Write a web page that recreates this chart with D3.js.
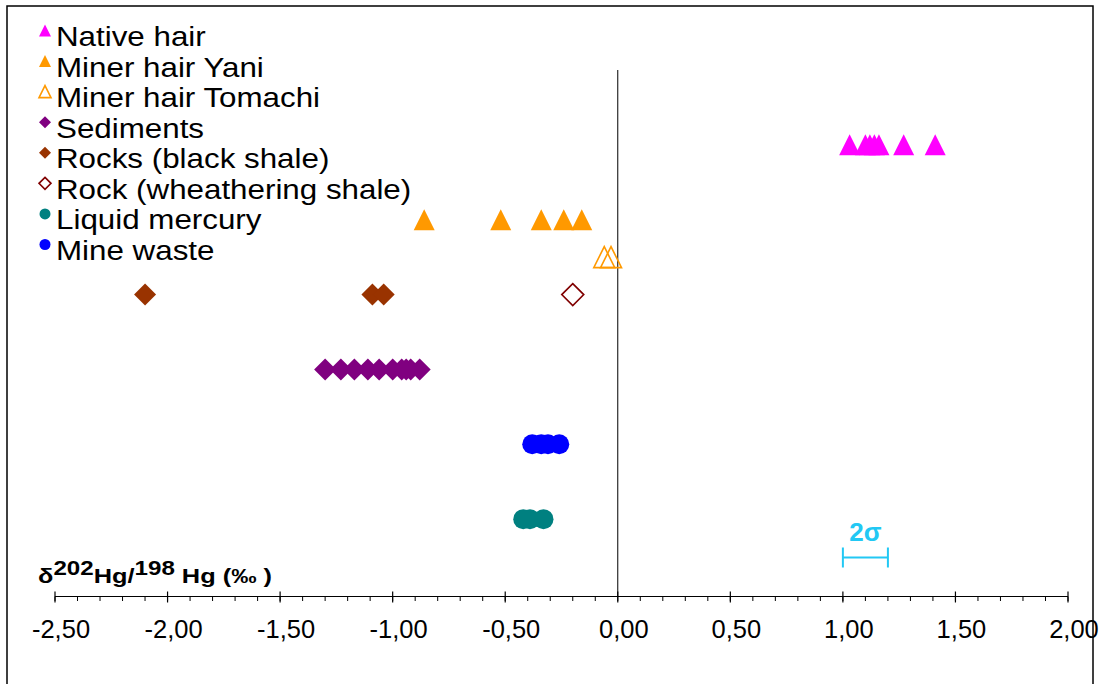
<!DOCTYPE html>
<html>
<head>
<meta charset="utf-8">
<script src="https://cdn.jsdelivr.net/npm/d3@7"></script>
<style>
  html, body { margin: 0; padding: 0; background: #fff; }
  svg { display: block; }
  text { font-family: "Liberation Sans", Arial, sans-serif; }
</style>
</head>
<body>
<svg id="chart" width="1103" height="684"></svg>
<script>
// ---------- data ----------
const seriesNames = ["Native hair", "Miner hair Yani", "Miner hair Tomachi", "Sediments",
  "Rocks (black shale)", "Rock (wheathering shale)", "Liquid mercury", "Mine waste"];
const seriesLevels = [6, 5, 4.5, 3, 4, 4, 1, 2];   // vertical row of each group
const nativeHair   = [1.03, 1.10, 1.12, 1.14, 1.16, 1.27, 1.41];
const minerYani    = [-0.86, -0.52, -0.34, -0.24, -0.16];
const minerTomachi = [-0.06, -0.03];
const sediments    = [-1.30, -1.23, -1.17, -1.11, -1.06, -1.00, -0.96, -0.94, -0.92, -0.88];
const rocksBlack   = [-2.10, -1.09, -1.04];
const rockWeather  = [-0.20];
const liquidHg     = [-0.42, -0.39, -0.33];
const mineWaste    = [-0.38, -0.34, -0.31, -0.26];
const majorTicks   = [-2.5, -2.0, -1.5, -1.0, -0.5, 0, 0.5, 1.0, 1.5, 2.0];
const tickLabels   = ["-2,50", "-2,00", "-1,50", "-1,00", "-0,50", "0,00", "0,50", "1,00", "1,50", "2,00"];
const sigmaBar     = [1.0, 1.2];

const seriesValues = [nativeHair, minerYani, minerTomachi, sediments, rocksBlack, rockWeather, liquidHg, mineWaste];
const styles = [
  {shape: "tri", fill: "#ff00ff", stroke: "none"},
  {shape: "tri", fill: "#ff9900", stroke: "none"},
  {shape: "tri", fill: "none", stroke: "#ff9900"},
  {shape: "dia", fill: "#800080", stroke: "none"},
  {shape: "dia", fill: "#993300", stroke: "none"},
  {shape: "dia", fill: "none", stroke: "#800000"},
  {shape: "cir", fill: "#008080", stroke: "none"},
  {shape: "cir", fill: "#0000ff", stroke: "none"}
];

// ---------- scales ----------
const x = d3.scaleLinear().domain([-2.5, 2.0]).range([55, 1068]);
const y = d3.scaleLinear().domain([0, 7]).range([594, 70]);
const axisY = 596.5;

const svg = d3.select("#chart");

// frame
svg.append("rect").attr("x", 7).attr("y", 6).attr("width", 1086).attr("height", 720)
  .attr("fill", "#fff").attr("stroke", "#000").attr("stroke-width", 1.5);

function shapePath(shape, s) {
  const h = s / 2;
  if (shape === "tri") {
    return `M0,${-h}L${h},${h}L${-h},${h}Z`;
  } else if (shape === "dia") {
    return `M0,${-h}L${h},0L0,${h}L${-h},0Z`;
  }
  return null;
}

function drawMarker(g, st, cx, cy, size) {
  if (st.shape === "cir") {
    g.append("circle").attr("cx", cx).attr("cy", cy).attr("r", size / 2)
      .attr("fill", st.fill).attr("stroke", st.stroke);
  } else {
    g.append("path").attr("d", shapePath(st.shape, size))
      .attr("transform", `translate(${cx},${cy})`)
      .attr("fill", st.fill)
      .attr("stroke", st.stroke)
      .attr("stroke-width", st.stroke === "none" ? 0 : 1.6)
      .attr("stroke-linejoin", "miter");
  }
}

// zero line
svg.append("line").attr("x1", x(0)).attr("x2", x(0)).attr("y1", y(7)).attr("y2", axisY)
  .attr("stroke", "#000").attr("stroke-width", 1);

// x axis
const axisG = svg.append("g");
axisG.append("line").attr("x1", x(-2.5)).attr("x2", x(2.0)).attr("y1", axisY).attr("y2", axisY)
  .attr("stroke", "#000").attr("stroke-width", 1.2);
const minor = d3.range(-25, 21).map(d => d / 10);
axisG.selectAll("line.minor").data(minor).join("line").attr("class", "minor")
  .attr("x1", d => x(d)).attr("x2", d => x(d))
  .attr("y1", axisY).attr("y2", axisY + 4.5)
  .attr("stroke", "#000").attr("stroke-width", 1);
axisG.selectAll("line.major").data(majorTicks).join("line").attr("class", "major")
  .attr("x1", d => x(d)).attr("x2", d => x(d))
  .attr("y1", axisY - 5).attr("y2", axisY + 6)
  .attr("stroke", "#000").attr("stroke-width", 1.2);
axisG.selectAll("text.tl").data(majorTicks).join("text").attr("class", "tl")
  .attr("x", d => x(d) + 6).attr("y", 638)
  .attr("text-anchor", "middle").attr("font-size", 25.5).attr("fill", "#000")
  .text((d, i) => tickLabels[i]);

// axis title
const title = svg.append("text").attr("x", 38).attr("y", 583)
  .attr("font-size", 21).attr("font-weight", "bold").attr("fill", "#000")
  .attr("textLength", 234).attr("lengthAdjust", "spacingAndGlyphs");
title.append("tspan").text("δ");
title.append("tspan").attr("dy", -8).attr("font-size", 20).text("202");
title.append("tspan").attr("dy", 8).text("Hg/");
title.append("tspan").attr("dy", -8).attr("font-size", 20).text("198");
title.append("tspan").attr("dy", 8).text(" Hg (‰ )");

// data points
seriesValues.forEach((vals, i) => {
  const g = svg.append("g");
  const st = styles[i];
  const size = st.shape === "cir" ? 20 : (st.shape === "dia" ? 22 : 21);
  vals.forEach(v => drawMarker(g, st, x(v), y(seriesLevels[i]), size));
});

// 2 sigma bar
const sigColor = "#22c8f4";
const sg = svg.append("g").attr("stroke", sigColor).attr("stroke-width", 2);
const sy = 557.5;
sg.append("line").attr("x1", x(sigmaBar[0])).attr("x2", x(sigmaBar[1])).attr("y1", sy).attr("y2", sy);
sg.append("line").attr("x1", x(sigmaBar[0])).attr("x2", x(sigmaBar[0])).attr("y1", sy - 10).attr("y2", sy + 10);
sg.append("line").attr("x1", x(sigmaBar[1])).attr("x2", x(sigmaBar[1])).attr("y1", sy - 10).attr("y2", sy + 10);
svg.append("text").attr("x", x((sigmaBar[0] + sigmaBar[1]) / 2)).attr("y", 541)
  .attr("text-anchor", "middle").attr("font-size", 26).attr("font-weight", "bold")
  .attr("fill", sigColor).text("2σ");

// legend
const legend = svg.append("g");
seriesNames.forEach((name, i) => {
  const base = 46 + i * 30.57;
  const st = styles[i];
  const size = st.shape === "cir" ? 11 : 12;
  drawMarker(legend, st, 45, base - 15.5, size);
  legend.append("text")
    .attr("transform", `translate(56,${base}) scale(1.1,1)`)
    .attr("font-size", 28.5).attr("fill", "#000").text(name);
});
</script>
</body>
</html>
